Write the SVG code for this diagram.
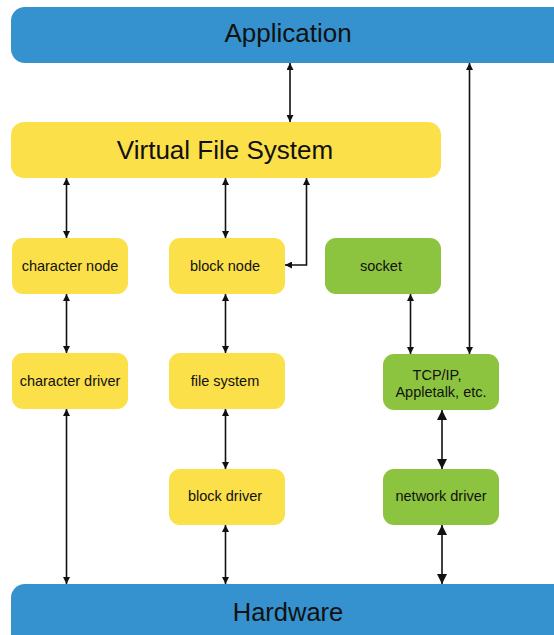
<svg xmlns="http://www.w3.org/2000/svg" width="554" height="635" viewBox="0 0 554 635">
  <style>
    .bar { fill: #3592ce; }
    .fs { fill: #fbe04a; }
    .net { fill: #8cc43f; }
    text { font-family: "Liberation Sans", Arial, sans-serif; fill: #111; text-anchor: middle; }
    .big { font-size: 26px; }
    .small { font-size: 14.5px; }
    .conn { stroke: #111; stroke-width: 1.6; fill: none; marker-start: url(#head); marker-end: url(#head); }
    .conn.wide { marker-start: url(#headWide); marker-end: url(#headWide); }
  </style>
  <defs>
    <marker id="head" viewBox="0 0 10 10" refX="10" refY="5" markerWidth="8" markerHeight="7" markerUnits="userSpaceOnUse" orient="auto-start-reverse">
      <path d="M0,0 L10,5 L0,10 Z" fill="#111"/>
    </marker>
    <marker id="headWide" viewBox="0 0 10 10" refX="10" refY="5" markerWidth="10" markerHeight="11" markerUnits="userSpaceOnUse" orient="auto-start-reverse">
      <path d="M0,0 L10,5 L0,10 Z" fill="#111"/>
    </marker>
  </defs>

  <g id="application">
    <rect class="bar" x="11" y="7" width="560" height="56" rx="14"/>
    <text class="big" x="288" y="42">Application</text>
  </g>

  <g id="vfs">
    <rect class="fs" x="11" y="122" width="430" height="56" rx="13"/>
    <text class="big" x="225" y="159">Virtual File System</text>
  </g>

  <g id="character-node">
    <rect class="fs" x="12" y="238" width="116" height="56" rx="11"/>
    <text class="small" x="70" y="271">character node</text>
  </g>

  <g id="block-node">
    <rect class="fs" x="169" y="238" width="116" height="56" rx="11"/>
    <text class="small" x="225" y="271">block node</text>
  </g>

  <g id="socket">
    <rect class="net" x="325" y="238" width="116" height="56" rx="11"/>
    <text class="small" x="381" y="271">socket</text>
  </g>

  <g id="character-driver">
    <rect class="fs" x="12" y="353" width="116" height="56" rx="11"/>
    <text class="small" x="70" y="386">character driver</text>
  </g>

  <g id="file-system">
    <rect class="fs" x="169" y="353" width="116" height="56" rx="11"/>
    <text class="small" x="225" y="386">file system</text>
  </g>

  <g id="tcp-ip">
    <rect class="net" x="383" y="354" width="116" height="56" rx="11"/>
    <text class="small" x="437" y="380">TCP/IP,</text>
    <text class="small" x="441" y="397">Appletalk, etc.</text>
  </g>

  <g id="block-driver">
    <rect class="fs" x="169" y="469" width="116" height="56" rx="11"/>
    <text class="small" x="225" y="501">block driver</text>
  </g>

  <g id="network-driver">
    <rect class="net" x="383" y="469" width="116" height="56" rx="11"/>
    <text class="small" x="441" y="501">network driver</text>
  </g>

  <g id="hardware">
    <rect class="bar" x="11" y="584" width="560" height="70" rx="14"/>
    <text class="big" x="288" y="621" style="font-size:25.5px">Hardware</text>
  </g>

  <g id="connectors">
    <path class="conn" d="M290,63 V122"/>
    <path class="conn" d="M469.5,63 V354"/>
    <path class="conn" d="M66.5,178 V238"/>
    <path class="conn" d="M225.5,178 V238"/>
    <path class="conn" d="M306.5,178 V265 H285"/>
    <path class="conn" d="M410.5,294 V354"/>
    <path class="conn" d="M66.5,294 V353"/>
    <path class="conn" d="M225.5,294 V353"/>
    <path class="conn" d="M225.5,409 V469"/>
    <path class="conn wide" d="M442,410 V469"/>
    <path class="conn" d="M66.5,409 V584"/>
    <path class="conn" d="M225.5,525 V584"/>
    <path class="conn wide" d="M442,525 V584"/>
  </g>
</svg>
